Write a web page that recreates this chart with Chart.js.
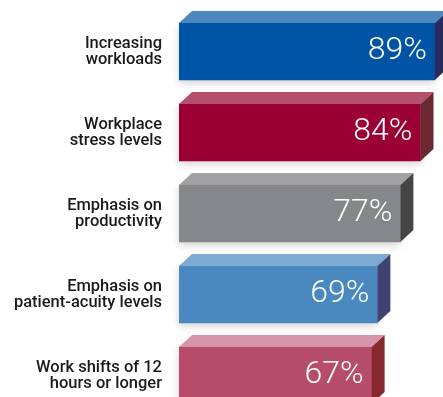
<!DOCTYPE html>
<html>
<head>
<meta charset="utf-8">
<script src="https://cdn.jsdelivr.net/npm/chart.js@4"></script>
<style>
  html, body { margin: 0; padding: 0; background: #fff; overflow: hidden; }
  #wrap { width: 443px; height: 397px; overflow: hidden; }
</style>
</head>
<body>
<div id="wrap"><canvas id="chart" width="470" height="420"></canvas></div>
<script>
// data
const categories = [
  ["Increasing", "workloads"],
  ["Workplace", "stress levels"],
  ["Emphasis on", "productivity"],
  ["Emphasis on", "patient-acuity levels"],
  ["Work shifts of 12", "hours or longer"]
]
const values = [89, 84, 77, 69, 67]

// colours for each face of the 3d bars
const frontColors = ["#0054a5", "#9b0034", "#86878a", "#4a88c0", "#b64d6a"]
const topColors = ["#4d87c1", "#b4506c", "#a2a2a5", "#7baad3", "#d695a8"]
const sideColors = ["#2a2a5e", "#6b2a33", "#444446", "#404272", "#87282c"]

const DEPTH_X = 13
const DEPTH_Y = 12

// draws top + side faces after the front faces, and the value text
const bar3d = {
  id: 'bar3d',
  beforeDatasetsDraw(chart) {
    const ctx = chart.ctx
    const meta = chart.getDatasetMeta(0)
    // soft shadow under each bar
    meta.data.forEach((bar) => {
      const top = bar.y - bar.height / 2
      ctx.save()
      ctx.shadowColor = 'rgba(0,0,0,0.18)'
      ctx.shadowBlur = 8
      ctx.shadowOffsetY = 3
      ctx.fillStyle = '#fff'
      ctx.fillRect(bar.base, top, bar.x - bar.base, bar.height)
      ctx.restore()
    })
  },
  afterDatasetsDraw(chart) {
    const ctx = chart.ctx
    const meta = chart.getDatasetMeta(0)
    meta.data.forEach((bar, i) => {
      const left = bar.base
      const right = bar.x
      const top = bar.y - bar.height / 2
      const bottom = bar.y + bar.height / 2

      // top face
      ctx.fillStyle = topColors[i]
      ctx.beginPath()
      ctx.moveTo(left, top)
      ctx.lineTo(left + DEPTH_X, top - DEPTH_Y)
      ctx.lineTo(right + DEPTH_X, top - DEPTH_Y)
      ctx.lineTo(right, top)
      ctx.closePath()
      ctx.fill()

      // side face
      ctx.fillStyle = sideColors[i]
      ctx.beginPath()
      ctx.moveTo(right, top)
      ctx.lineTo(right + DEPTH_X, top - DEPTH_Y)
      ctx.lineTo(right + DEPTH_X, bottom - DEPTH_Y)
      ctx.lineTo(right, bottom)
      ctx.closePath()
      ctx.fill()

      // value
      ctx.fillStyle = '#fff'
      ctx.font = '300 32px Roboto'
      ctx.textAlign = 'right'
      ctx.textBaseline = 'middle'
      ctx.fillText(values[i] + '%', right - 8, bar.y - 1)
    })
  }
}

new Chart(document.getElementById('chart'), {
  type: 'bar',
  data: {
    labels: categories,
    datasets: [{
      data: values,
      backgroundColor: frontColors,
      borderWidth: 0,
      barThickness: 57
    }]
  },
  options: {
    indexAxis: 'y',
    responsive: false,
    animation: false,
    layout: { padding: { top: 11, bottom: 4, left: 0, right: 3.5 } },
    plugins: {
      legend: { display: false },
      tooltip: { enabled: false }
    },
    scales: {
      x: {
        display: false,
        min: 0,
        max: 100
      },
      y: {
        grid: { display: false, drawTicks: false },
        border: { display: false },
        afterFit: (scale) => {
          scale.width = 179
          scale.paddingTop = 0
          scale.paddingBottom = 0
        },
        ticks: {
          padding: 17,
          color: '#1a1a1a',
          font: { family: 'Roboto', size: 16.5, weight: '500', lineHeight: 0.97 }
        }
      }
    }
  },
  plugins: [bar3d]
})
</script>
</body>
</html>
